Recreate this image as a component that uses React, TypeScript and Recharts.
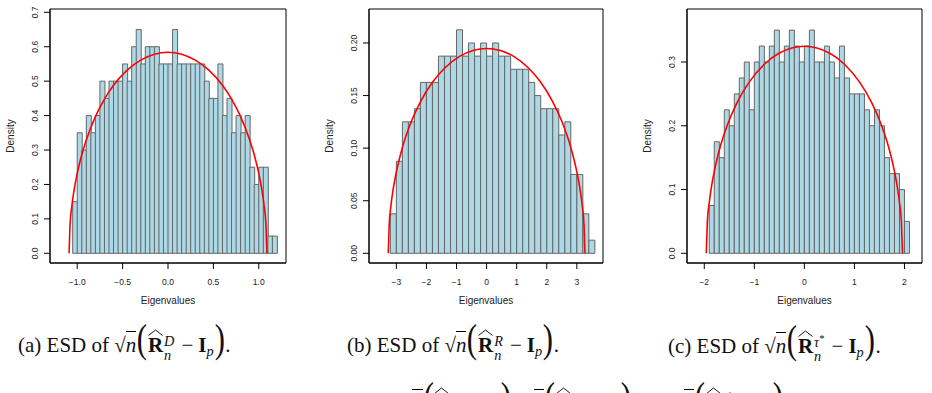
import React from 'react';
import { Bar, ComposedChart, Line, ReferenceArea, XAxis, YAxis } from 'recharts';

// histogram densities (n = 400 eigenvalues per panel)
const densityD = [
  0.15, 0.35, 0.3, 0.4, 0.35, 0.4, 0.5, 0.45, 0.5, 0.5, 0.5, 0.55, 0.5, 0.6, 0.65,
  0.55, 0.6, 0.6, 0.6, 0.55, 0.55, 0.55, 0.65, 0.55, 0.55, 0.55, 0.55, 0.55, 0.55, 0.5,
  0.45, 0.45, 0.55, 0.4, 0.45, 0.35, 0.4, 0.35, 0.4, 0.25, 0.2, 0.25, 0.25, 0.05, 0.05,
];
const densityR = [
  0.0375, 0.0875, 0.125, 0.125, 0.1375, 0.1625, 0.1625, 0.1625, 0.1875, 0.1875, 0.1875,
  0.2125, 0.1875, 0.2, 0.1875, 0.2, 0.1875, 0.2, 0.1875, 0.1875, 0.175, 0.175, 0.175,
  0.1625, 0.15, 0.1375, 0.1375, 0.1375, 0.1125, 0.125, 0.075, 0.075, 0.0375, 0.0125,
];
const densityTau = [
  0.075, 0.175, 0.15, 0.225, 0.2, 0.25, 0.275, 0.3, 0.225, 0.3, 0.325, 0.3, 0.325, 0.35,
  0.3, 0.325, 0.35, 0.325, 0.3, 0.325, 0.35, 0.3, 0.3, 0.325, 0.3, 0.275, 0.325, 0.275,
  0.25, 0.25, 0.25, 0.225, 0.2, 0.225, 0.2, 0.15, 0.125, 0.125, 0.1, 0.05,
];

// red limiting density
const curveXD = [-1.09, -1.08, -1.06, -1.03, -1.0, -0.95, -0.9, -0.8, -0.7, -0.6, -0.45, -0.3, -0.15, 0,
  0.15, 0.3, 0.45, 0.6, 0.7, 0.8, 0.9, 0.95, 1.0, 1.03, 1.06, 1.08, 1.09];
const curveYD = [0, 0.079, 0.136, 0.191, 0.232, 0.286, 0.329, 0.397, 0.448, 0.488, 0.532, 0.561, 0.578, 0.584,
  0.578, 0.561, 0.532, 0.488, 0.448, 0.397, 0.329, 0.286, 0.232, 0.191, 0.136, 0.079, 0];
const curveXR = [-3.27, -3.24, -3.18, -3.1, -3.0, -2.8, -2.5, -2.2, -1.8, -1.4, -0.9, -0.45, 0,
  0.45, 0.9, 1.4, 1.8, 2.2, 2.5, 2.8, 3.0, 3.1, 3.18, 3.24, 3.27];
const curveYR = [0, 0.0264, 0.0454, 0.062, 0.0775, 0.1006, 0.1255, 0.1441, 0.1626, 0.176, 0.1872, 0.1929, 0.1947,
  0.1929, 0.1872, 0.176, 0.1626, 0.1441, 0.1255, 0.1006, 0.0775, 0.062, 0.0454, 0.0264, 0];
const curveXTau = [-1.96, -1.94, -1.9, -1.85, -1.78, -1.7, -1.55, -1.35, -1.1, -0.8, -0.5, -0.25, 0,
  0.25, 0.5, 0.8, 1.1, 1.35, 1.55, 1.7, 1.78, 1.85, 1.9, 1.94, 1.96];
const curveYTau = [0, 0.0463, 0.0797, 0.1073, 0.136, 0.1617, 0.1988, 0.2355, 0.2688, 0.2965, 0.314, 0.3221, 0.3248,
  0.3221, 0.314, 0.2965, 0.2688, 0.2355, 0.1988, 0.1617, 0.136, 0.1073, 0.0797, 0.0463, 0];

const xTicksD = [-1, -0.5, 0, 0.5, 1];
const xLabelsD = ['\u22121.0', '\u22120.5', '0.0', '0.5', '1.0'];
const yTicksD = [0, 0.1, 0.2, 0.3, 0.4, 0.5, 0.6, 0.7];
const yLabelsD = ['0.0', '0.1', '0.2', '0.3', '0.4', '0.5', '0.6', '0.7'];

const xTicksR = [-3, -2, -1, 0, 1, 2, 3];
const xLabelsR = ['\u22123', '\u22122', '\u22121', '0', '1', '2', '3'];
const yTicksR = [0, 0.05, 0.1, 0.15, 0.2];
const yLabelsR = ['0.00', '0.05', '0.10', '0.15', '0.20'];

const xTicksTau = [-2, -1, 0, 1, 2];
const xLabelsTau = ['\u22122', '\u22121', '0', '1', '2'];
const yTicksTau = [0, 0.1, 0.2, 0.3];
const yLabelsTau = ['0.0', '0.1', '0.2', '0.3'];

interface PanelSpec {
  density: number[];
  breakStart: number;
  binWidth: number;
  curveX: number[];
  curveY: number[];
  xDomain: [number, number];
  yDomain: [number, number];
  xTicks: number[];
  xLabels: string[];
  yTicks: number[];
  yLabels: string[];
  plotLeft: number;
  plotWidth: number;
}

const panels: PanelSpec[] = [
  {
    density: densityD, breakStart: -1.05, binWidth: 0.05, curveX: curveXD, curveY: curveYD,
    xDomain: [-1.3, 1.3], yDomain: [-0.0282, 0.7096],
    xTicks: xTicksD, xLabels: xLabelsD, yTicks: yTicksD, yLabels: yLabelsD,
    plotLeft: 50, plotWidth: 236,
  },
  {
    density: densityR, breakStart: -3.2, binWidth: 0.2, curveX: curveXR, curveY: curveYR,
    xDomain: [-3.91, 3.87], yDomain: [-0.0092, 0.2323],
    xTicks: xTicksR, xLabels: xLabelsR, yTicks: yTicksR, yLabels: yLabelsR,
    plotLeft: 369, plotWidth: 234,
  },
  {
    density: densityTau, breakStart: -1.9, binWidth: 0.1, curveX: curveXTau, curveY: curveYTau,
    xDomain: [-2.345, 2.35], yDomain: [-0.0152, 0.3831],
    xTicks: xTicksTau, xLabels: xLabelsTau, yTicks: yTicksTau, yLabels: yLabelsTau,
    plotLeft: 687, plotWidth: 235,
  },
];

const SANS = '"Liberation Sans", Arial, sans-serif';
const SERIF = '"Liberation Serif", "Times New Roman", serif';

function HistPanel({ p }: { p: PanelSpec }) {
  const rows = p.density.map((d, i) => ({ mid: p.breakStart + (i + 0.5) * p.binWidth, density: d }));
  const curve = p.curveX.map((x, i) => ({ x, y: p.curveY[i] }));
  const labelOf = (ticks: number[], labels: string[], v: number) => {
    const i = ticks.findIndex((t) => Math.abs(t - v) < 1e-9);
    return i >= 0 ? labels[i] : String(v);
  };

  const XTick = (props: any) => (
    <text x={props.x} y={props.y + 13.5} textAnchor="middle" fontSize={8.5} fontFamily={SANS} fill="#222">
      {labelOf(p.xTicks, p.xLabels, props.payload.value)}
    </text>
  );
  const YTick = (props: any) => {
    const tx = props.x - 3.7;
    return (
      <text x={tx} y={props.y} transform={`rotate(-90 ${tx} ${props.y})`} textAnchor="middle" fontSize={8.5} fontFamily={SANS} fill="#222">
        {labelOf(p.yTicks, p.yLabels, props.payload.value)}
      </text>
    );
  };

  const chartW = 50 + p.plotWidth + 4;
  return (
    <div style={{ position: 'absolute', left: p.plotLeft - 50, top: 0 }}>
      <ComposedChart
        width={chartW}
        height={312}
        data={rows}
        margin={{ top: 9, right: 4, bottom: 9, left: 0 }}
        barCategoryGap={0}
        barGap={0}
      >
        <XAxis
          xAxisId="curve"
          dataKey="x"
          type="number"
          domain={p.xDomain}
          allowDataOverflow
          ticks={p.xTicks}
          interval={0}
          height={40}
          tickSize={6}
          tickMargin={2}
          stroke="#000"
          tick={<XTick />}
          label={(lp: any) => {
            const vb = lp.viewBox;
            return (
              <text x={vb.x + vb.width / 2} y={vb.y + 41} textAnchor="middle" fontSize={10} fontFamily={SANS} fill="#222">
                Eigenvalues
              </text>
            );
          }}
        />
        <XAxis xAxisId="bins" dataKey="mid" type="number" domain={p.xDomain} allowDataOverflow hide height={0} />
        <YAxis
          type="number"
          domain={p.yDomain}
          allowDataOverflow
          ticks={p.yTicks}
          interval={0}
          width={50}
          tickSize={6}
          tickMargin={2}
          stroke="#000"
          tick={<YTick />}
          label={(lp: any) => {
            const vb = lp.viewBox;
            const cy = vb.y + vb.height / 2;
            return (
              <text x={14} y={cy} transform={`rotate(-90 14 ${cy})`} textAnchor="middle" fontSize={10} fontFamily={SANS} fill="#222">
                Density
              </text>
            );
          }}
        />
        <Bar xAxisId="bins" dataKey="density" fill="#ADD8E6" stroke="#666" strokeWidth={1} isAnimationActive={false} />
        <Line
          xAxisId="curve"
          data={curve}
          dataKey="y"
          type="monotone"
          stroke="#FF0000"
          strokeWidth={1.6}
          dot={false}
          activeDot={false}
          isAnimationActive={false}
        />
        <ReferenceArea
          xAxisId="curve"
          x1={p.xDomain[0]}
          x2={p.xDomain[1]}
          y1={p.yDomain[0]}
          y2={p.yDomain[1]}
          fill="none"
          fillOpacity={0}
          stroke="#000"
          strokeWidth={1}
          ifOverflow="visible"
        />
      </ComposedChart>
    </div>
  );
}

function Hat({ children, w }: { children: React.ReactNode; w: number }) {
  return (
    <span style={{ position: 'relative', display: 'inline-block', fontWeight: 'bold' }}>
      {children}
      <svg width={w} height={7} style={{ position: 'absolute', left: 0, top: -4 }}>
        <polyline points={`0.5,6.5 ${w / 2},1 ${w - 0.5},6.5`} fill="none" stroke="#000" strokeWidth={0.9} />
      </svg>
    </span>
  );
}

function Stack({ sup }: { sup: React.ReactNode }) {
  return (
    <span
      style={{
        display: 'inline-flex',
        flexDirection: 'column',
        fontSize: '0.68em',
        lineHeight: 1,
        verticalAlign: '0.42em',
        fontStyle: 'italic',
        marginLeft: 1,
        marginRight: 2,
      }}
    >
      <span>{sup}</span>
      <span>n</span>
    </span>
  );
}

function Expr({ sup }: { sup: React.ReactNode }) {
  const big: React.CSSProperties = {
    display: 'inline-block',
    fontSize: '1.95em',
    lineHeight: 0,
    transform: 'scaleX(0.75)',
    fontWeight: 300,
    margin: '0 -1px',
  };
  return (
    <span>
      <span>{'\u221A'}</span>
      <span style={{ borderTop: '1px solid #000', fontStyle: 'italic', paddingTop: 1 }}>n</span>
      <span style={big}>(</span>
      <Hat w={15}>R</Hat>
      <Stack sup={sup} />
      <span style={{ margin: '0 5px' }}>{'\u2212'}</span>
      <span style={{ fontWeight: 'bold' }}>I</span>
      <span style={{ fontSize: '0.68em', fontStyle: 'italic', verticalAlign: '-0.3em' }}>p</span>
      <span style={big}>)</span>
    </span>
  );
}

function Caption({ left, tag, sup }: { left: number; tag: string; sup: React.ReactNode }) {
  return (
    <div
      style={{
        position: 'absolute',
        left,
        top: 333,
        fontFamily: SERIF,
        fontSize: 21,
        lineHeight: '24px',
        whiteSpace: 'nowrap',
        color: '#111',
      }}
    >
      ({tag}) ESD of <Expr sup={sup} />.
    </div>
  );
}

const tauStar = (
  <span>
    {'\u03C4'}
    <span style={{ fontSize: '0.75em', verticalAlign: '0.45em', fontStyle: 'normal' }}>*</span>
  </span>
);

export default function App() {
  return (
    <div
      style={{
        position: 'absolute',
        left: 0,
        top: 0,
        width: 932,
        height: 393,
        overflow: 'hidden',
        background: '#fff',
      }}
    >
      {panels.map((p, i) => (
        <HistPanel key={i} p={p} />
      ))}
      <Caption left={18} tag="a" sup="D" />
      <Caption left={347} tag="b" sup="R" />
      <Caption left={668} tag="c" sup={tauStar} />
      <div
        style={{
          position: 'absolute',
          left: 25,
          top: 390,
          fontFamily: SERIF,
          fontSize: 21,
          lineHeight: '24px',
          whiteSpace: 'nowrap',
          color: '#111',
        }}
      >
        Figure 2: Simulated spectral distributions of <Expr sup="D" />, <Expr sup="R" /> and <Expr sup={tauStar} />.
      </div>
    </div>
  );
}
